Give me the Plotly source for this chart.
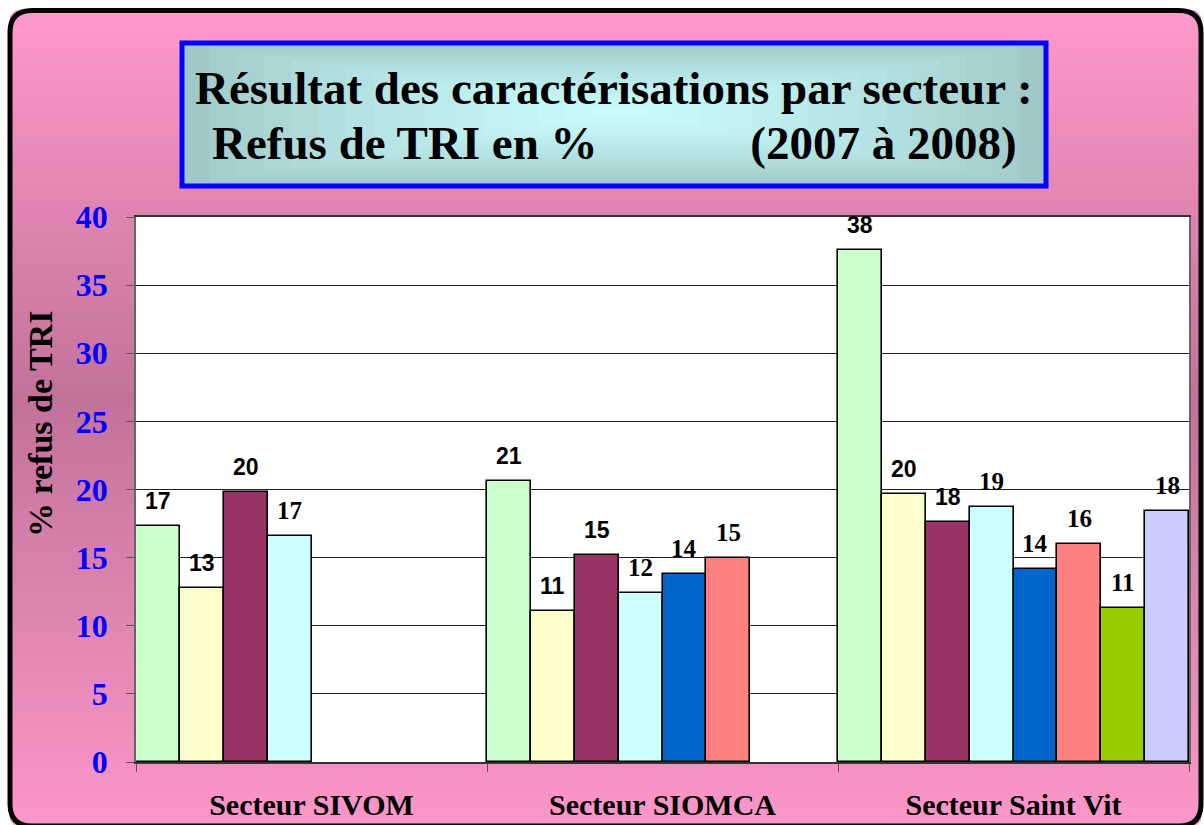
import plotly.graph_objects as go

# ---------------- data ----------------
categories = ["Secteur SIVOM", "Secteur SIOMCA", "Secteur Saint Vit"]
series_names = ["Série 1", "Série 2", "Série 3", "Série 4",
                "Série 5", "Série 6", "Série 7", "Série 8"]
s1 = [17.3, 20.6, 37.6]
s2 = [12.8, 11.1, 19.7]
s3 = [19.8, 15.2, 17.6]
s4 = [16.6, 12.4, 18.7]
s5 = [None, 13.8, 14.2]
s6 = [None, 15.0, 16.0]
s7 = [None, None, 11.3]
s8 = [None, None, 18.4]
series_values = [s1, s2, s3, s4, s5, s6, s7, s8]
y_ticks = [0, 5, 10, 15, 20, 25, 30, 35, 40]
title_line1 = "Résultat des caractérisations par secteur :"
title_line2 = "Refus de TRI en %" + "\u00a0" * 13 + "(2007 à 2008)"
y_title = "% refus de TRI"

# ---------------- style ----------------
colors = ["#CCFFCC", "#FFFFCC", "#993366", "#CCFFFF",
          "#0066CC", "#FF8080", "#99CC00", "#CCCCFF"]
label_fonts = ["Liberation Sans"] * 3 + ["Liberation Serif"] * 5
label_sizes = [23] * 3 + [25] * 5
SERIF = "Liberation Serif"

W, H = 1204, 825
ML, MR, MT, MB = 136, 15, 217, 63
PW, PH = W - ML - MR, H - MT - MB


def px(x):
    return (x - ML) / PW


def py(y):
    return (H - MB - y) / PH


def lerp(c1, c2, t):
    return tuple(round(a + (b - a) * t) for a, b in zip(c1, c2))


def rgb(c):
    return "rgb(%d,%d,%d)" % c


fig = go.Figure()
n = len(series_values)
for k, (name, vals) in enumerate(zip(series_names, series_values)):
    fig.add_trace(go.Bar(
        name=name, x=categories, y=vals,
        marker=dict(color=colors[k], line=dict(color="#000000", width=1.6)),
        hovertemplate="%{x}<br>%{y}<extra>" + name + "</extra>",
    ))

annotations = []
for k, vals in enumerate(series_values):
    for i, v in enumerate(vals):
        if v is None:
            continue
        annotations.append(dict(
            x=i - 0.5 + (k + 0.5) / n, y=v, xref="x", yref="y",
            text="<b>%.0f</b>" % v, showarrow=False,
            yanchor="bottom", xanchor="center", yshift=10,
            font=dict(family=label_fonts[k], size=label_sizes[k], color="#000000"),
        ))

# title (two lines)
for txt, yc in ((title_line1, 88), (title_line2, 143)):
    annotations.append(dict(
        x=px(614), y=py(yc), xref="paper", yref="paper",
        text="<b>" + txt + "</b>",
        showarrow=False, xanchor="center", yanchor="middle",
        font=dict(family=SERIF, size=47, color="#000000"),
    ))
# y axis title
annotations.append(dict(
    x=px(40), y=py(424), xref="paper", yref="paper",
    text="<b>" + y_title + "</b>", textangle=-90, showarrow=False,
    xanchor="center", yanchor="middle",
    font=dict(family=SERIF, size=34, color="#000000"),
))

shapes = []
# background vertical gradient (stripes)
top_c, mid_c, bot_c = (255, 153, 204), (194, 114, 154), (252, 152, 202)
y0, ymid, y1 = 10, 400, 832
nst = 90
for j in range(nst):
    ya = y0 + (y1 - y0) * j / nst
    yb = y0 + (y1 - y0) * (j + 1) / nst + 0.8
    yc = (ya + yb) / 2
    if yc < ymid:
        c = lerp(top_c, mid_c, (yc - y0) / (ymid - y0))
    else:
        c = lerp(mid_c, bot_c, (yc - ymid) / (y1 - ymid))
    shapes.append(dict(type="rect", xref="paper", yref="paper", layer="below",
                       x0=px(10), x1=px(1201), y0=py(ya), y1=py(yb),
                       fillcolor=rgb(c), line=dict(width=0)))

# white corner masks outside rounded frame
R = 22
fx0, fy0, fx1, fy1 = 10, 10.5, 1201, 826


def corner(cx, cy, dx, dy):
    p = "M %f,%f L %f,%f Q %f,%f %f,%f Z" % (
        px(cx), py(cy), px(cx + dx * R), py(cy),
        px(cx), py(cy), px(cx), py(cy + dy * R))
    return dict(type="path", xref="paper", yref="paper", layer="below",
                path=p, fillcolor="#FFFFFF", line=dict(width=0))


shapes += [corner(fx0 - 3, fy0 - 3, 1, 1), corner(fx1 + 3, fy0 - 3, -1, 1),
           corner(fx0 - 3, fy1 + 3, 1, -1), corner(fx1 + 3, fy1 + 3, -1, -1)]

# white plot area
shapes.append(dict(type="rect", xref="paper", yref="paper", layer="below",
                   x0=0, x1=1, y0=0, y1=1, fillcolor="#FFFFFF",
                   line=dict(width=0)))

# title box gradient (nested rects)
bx0, by0, bx1, by1 = 182, 43, 1046, 186
ccx, ccy = 620, 112
edge_c, center_c = (160, 200, 200), (204, 255, 255)
nb = 16
for j in range(nb):
    t = j / nb
    c = lerp(edge_c, center_c, t ** 0.8)
    shapes.append(dict(type="rect", xref="paper", yref="paper", layer="below",
                       x0=px(bx0 + (ccx - bx0) * t), x1=px(bx1 - (bx1 - ccx) * t),
                       y0=py(by0 + (ccy - by0) * t), y1=py(by1 - (by1 - ccy) * t),
                       fillcolor=rgb(c), line=dict(width=0)))
shapes.append(dict(type="rect", xref="paper", yref="paper", layer="below",
                   x0=px(bx0), x1=px(bx1), y0=py(by0), y1=py(by1),
                   fillcolor="rgba(0,0,0,0)", line=dict(color="#0000FF", width=5)))

# rounded black frame
fp = ("M %f,%f L %f,%f Q %f,%f %f,%f L %f,%f Q %f,%f %f,%f "
      "L %f,%f Q %f,%f %f,%f L %f,%f Q %f,%f %f,%f Z") % (
    px(fx0 + R), py(fy0), px(fx1 - R), py(fy0),
    px(fx1), py(fy0), px(fx1), py(fy0 + R),
    px(fx1), py(fy1 - R),
    px(fx1), py(fy1), px(fx1 - R), py(fy1),
    px(fx0 + R), py(fy1),
    px(fx0), py(fy1), px(fx0), py(fy1 - R),
    px(fx0), py(fy0 + R),
    px(fx0), py(fy0), px(fx0 + R), py(fy0))
shapes.append(dict(type="path", xref="paper", yref="paper", layer="below",
                   path=fp, fillcolor="rgba(0,0,0,0)",
                   line=dict(color="#000000", width=5)))

fig.update_layout(
    width=W, height=H, autosize=False,
    margin=dict(l=ML, r=MR, t=MT, b=MB, pad=0),
    paper_bgcolor="#FFFFFF", plot_bgcolor="rgba(0,0,0,0)",
    barmode="group", bargap=0, bargroupgap=0,
    showlegend=False,
    shapes=shapes, annotations=annotations,
    xaxis=dict(
        type="category", categoryorder="array", categoryarray=categories,
        range=[-0.5, 2.5], tickson="boundaries", ticks="outside", ticklen=8,
        tickcolor="#555555", showline=True, linecolor="#333333", linewidth=1.5,
        mirror=True, showgrid=False, ticklabelstandoff=15, automargin=False,
        tickfont=dict(family=SERIF, size=30, color="#000000", weight="bold"),
    ),
    yaxis=dict(
        range=[0, 40], tickmode="array", tickvals=y_ticks,
        ticktext=[str(t) for t in y_ticks],
        ticks="outside", ticklen=8, tickcolor="#555555",
        showline=True, linecolor="#666666", linewidth=1.5, mirror=True,
        showgrid=True, gridcolor="#222222", gridwidth=1, zeroline=False,
        ticklabelstandoff=12, automargin=False,
        tickfont=dict(family=SERIF, size=32, color="#0000FF", weight="bold"),
    ),
)

fig.write_html(
    "out.html",
    config={"displayModeBar": False},
    post_script="document.body.style.margin='0';document.body.style.overflow='hidden';",
)
